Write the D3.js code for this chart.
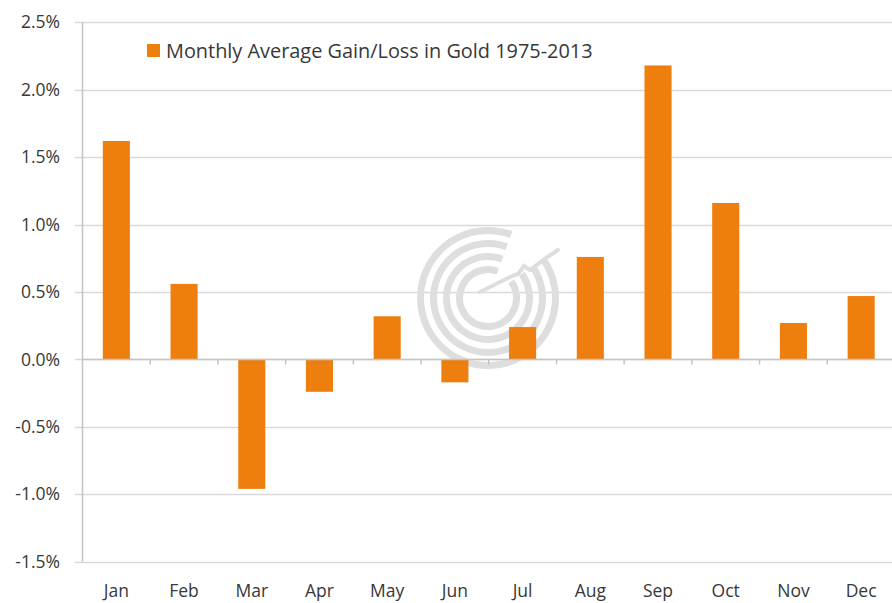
<!DOCTYPE html>
<html><head><meta charset="utf-8">
<script src="https://cdn.jsdelivr.net/npm/d3@7"></script>
<style>html,body{margin:0;padding:0;background:#fff;}</style>
</head><body>
<svg id="chart" width="892" height="603"></svg>
<script>
const months = ["Jan","Feb","Mar","Apr","May","Jun","Jul","Aug","Sep","Oct","Nov","Dec"];
const avgGain = [1.62, 0.56, -0.96, -0.24, 0.32, -0.17, 0.24, 0.76, 2.18, 1.16, 0.27, 0.47];
const yTicks = [-1.5, -1.0, -0.5, 0.0, 0.5, 1.0, 1.5, 2.0, 2.5];
const legendLabel = "Monthly Average Gain/Loss in Gold 1975-2013";

const svg = d3.select("#chart");
const plotL = 82.5, plotR = 895, plotT = 22.3, plotB = 561.7;
const font = "'Open Sans', 'Liberation Sans', sans-serif";
const orange = "#EE7F0E";
const textCol = "#383838";

const x = d3.scaleBand().domain(months).range([plotL, plotR]).paddingInner(0.6).paddingOuter(0.3);
const xb = d3.scaleBand().domain(months).range([plotL, plotR]);
const y = d3.scaleLinear().domain([-1.5, 2.5]).range([plotB, plotT]);

// gridlines
svg.append("g").selectAll("line").data(yTicks).join("line")
  .attr("x1", 75).attr("x2", 892)
  .attr("y1", d => Math.round(y(d)) + 0.5).attr("y2", d => Math.round(y(d)) + 0.5)
  .attr("stroke", "#d9d9d9").attr("stroke-width", 1.5);

// watermark
const wm = svg.append("g").attr("transform", "translate(488,298)");
const rings = [[64,71],[51,58],[38,45],[25,32]];
rings.forEach((r,i) => {
  wm.append("path").attr("d", d3.arc()({innerRadius:r[0], outerRadius:r[1], startAngle: 0.95, endAngle: 2*Math.PI + 0.35}))
    .attr("fill", "#dedede");
});
wm.append("path").attr("d", "M-8,-6 L24,-22 L30,-24 L36,-32 L42,-28 L58,-40 L70,-48")
  .attr("fill","none").attr("stroke","#dedede").attr("stroke-width",4).attr("stroke-linecap","round");

// y axis line
svg.append("line").attr("x1", plotL).attr("x2", plotL).attr("y1", plotT).attr("y2", plotB)
  .attr("stroke", "#c4c4c4").attr("stroke-width", 1.5);

// y labels
svg.append("g").selectAll("text").data(yTicks).join("text")
  .attr("x", 60).attr("y", d => y(d)).attr("dy", "0.35em")
  .attr("text-anchor", "end").attr("font-family", font).attr("font-size", 17.5)
  .attr("fill", textCol).text(d => d.toFixed(1) + "%");

// bars
svg.append("g").selectAll("rect").data(avgGain).join("rect")
  .attr("x", (d,i) => x(months[i]))
  .attr("width", x.bandwidth())
  .attr("y", d => y(Math.max(0, d)))
  .attr("height", d => Math.abs(y(d) - y(0)))
  .attr("fill", orange);

// zero axis with ticks
const y0 = Math.round(y(0)) + 0.5;
svg.append("line").attr("x1", plotL).attr("x2", 892).attr("y1", y0).attr("y2", y0)
  .attr("stroke", "#c4c4c4").attr("stroke-width", 1.5);
svg.append("g").selectAll("line").data(months.slice(1)).join("line")
  .attr("x1", d => xb(d)).attr("x2", d => xb(d))
  .attr("y1", y0).attr("y2", y0 + 5)
  .attr("stroke", "#c4c4c4").attr("stroke-width", 1.5);

// x labels
svg.append("g").selectAll("text").data(months).join("text")
  .attr("x", d => xb(d) + xb.bandwidth()/2).attr("y", 597)
  .attr("text-anchor", "middle").attr("font-family", font).attr("font-size", 17.5)
  .attr("fill", textCol).text(d => d);

// legend
svg.append("rect").attr("x", 147).attr("y", 44).attr("width", 13).attr("height", 13).attr("fill", orange);
svg.append("text").attr("x", 166).attr("y", 57.5).attr("font-family", font).attr("font-size", 19.9)
  .attr("fill", textCol).text(legendLabel);
</script>
</body></html>
